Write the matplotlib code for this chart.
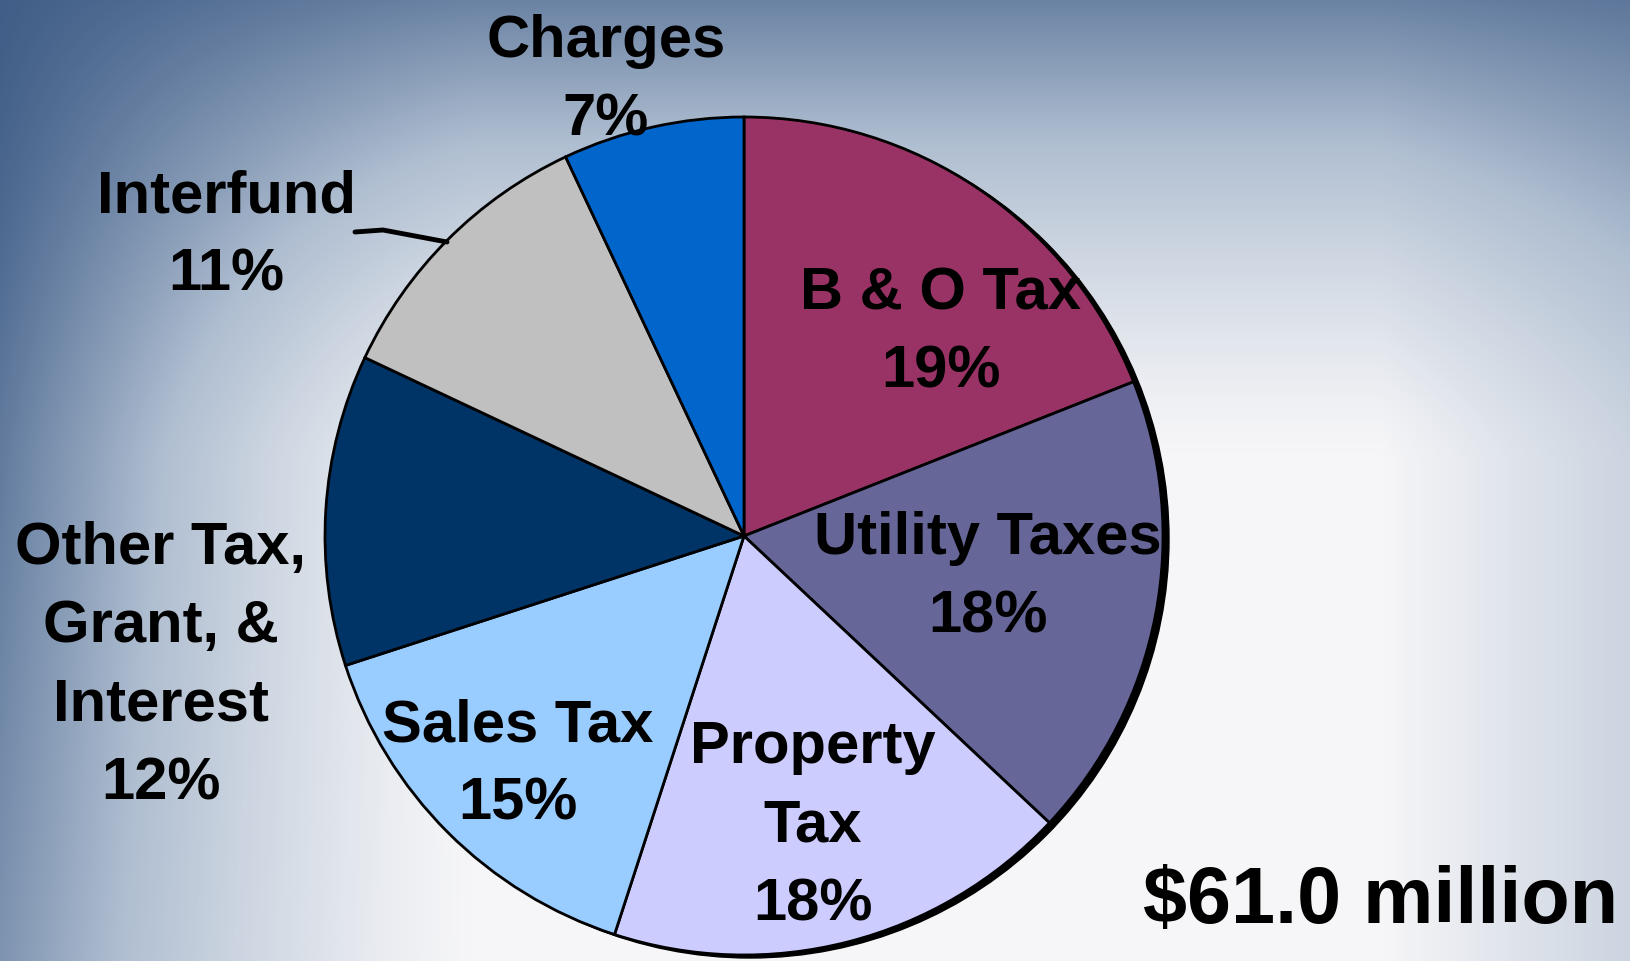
import numpy as np
import matplotlib
matplotlib.use("Agg")
import matplotlib.pyplot as plt
from matplotlib.colors import LinearSegmentedColormap

# revenue shares (percent)
categories = ["B & O Tax", "Utility Taxes", "Property\nTax", "Sales Tax",
              "Other Tax,\nGrant, &\nInterest", "Interfund", "Charges"]
shares = [19, 18, 18, 15, 12, 11, 7]
colors = ["#993366", "#666699", "#CCCCFF", "#99CCFF", "#003366", "#C0C0C0", "#0066CC"]
total_label = "$61.0 million"

# label anchor points in pixels (x, y from top)
label_pos = [(941, 333), (988, 578), (813, 826), (518, 765),
             (161, 666), (226, 236), (606, 81)]

W, H = 1631, 961
fig = plt.figure(figsize=(W / 100, H / 100), dpi=100)
ax = fig.add_axes([0, 0, 1, 1])

# background: steel blue at top/left edges fading to near white
xx, yy = np.meshgrid(np.arange(W), np.arange(H))
def ramp(v, a, b, p=1.3):
    t = np.clip((v - a) / (b - a), 0, 1)
    return 1 - (1 - t) ** p
left = 0.95 * (1 - ramp(xx, 0, 480)) * (1 - 0.25 * yy / H)
top = 0.8 * (1 - ramp(yy, 0, 460))
right = 0.3 * ramp(xx, 1380, W, 1.0)
dark = 1 - (1 - left) * (1 - top) * (1 - right)
bg = LinearSegmentedColormap.from_list("bg", ["#f6f6f8", "#aebdd0", "#3e5c86"])
ax.imshow(dark, cmap=bg, vmin=0, vmax=1, extent=(0, W, 0, H),
          origin="upper", zorder=0, aspect="auto")

cx, cy, r = 744, H - 536, 419

# drop shadow on the right side
ax.add_patch(plt.Circle((cx + 6, cy - 3), r, color="black", zorder=1))

ax.pie(shares, colors=colors, startangle=90, counterclock=False,
       center=(cx, cy), radius=r, frame=True,
       wedgeprops=dict(edgecolor="black", linewidth=2, zorder=2))
ax.set_xlim(0, W)
ax.set_ylim(0, H)
ax.set_aspect("equal")
ax.axis("off")

font = dict(family="Liberation Sans", weight="bold", size=43, color="black")
for name, val, (x, y) in zip(categories, shares, label_pos):
    ax.text(x, H - y, f"{name}\n{val}%", ha="center", va="center",
            linespacing=1.55, zorder=5, **font)

# leader line for Interfund
ax.plot([355, 383, 447], [H - 232, H - 230, H - 242], color="black",
        lw=3.5, solid_capstyle="round", zorder=4)

ax.text(1618, H - 903, total_label, ha="right", va="center",
        family="Liberation Sans", weight="bold", size=57, zorder=5)

fig.savefig("out.png", dpi=100)
